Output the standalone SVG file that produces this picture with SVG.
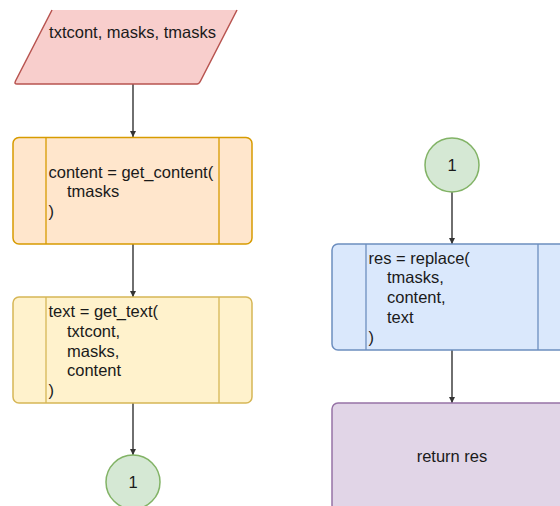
<svg xmlns="http://www.w3.org/2000/svg" width="560" height="506" viewBox="0 0 560 506">
  <style>
    text { font-family: "Liberation Sans", Arial, sans-serif; font-size: 16.5px; fill: #1a1a1a; }
    .mid { text-anchor: middle; }
    .edge { fill: none; stroke: #333333; stroke-width: 1.4; }
    .bx { stroke-width: 1.5; }
    .sep { fill: none; stroke-width: 1.3; }
  </style>
  <defs>
    <marker id="arrow" viewBox="0 0 10 10" refX="10" refY="5" markerWidth="6" markerHeight="6" markerUnits="userSpaceOnUse" orient="auto">
      <path d="M0,0 L10,5 L0,10 Z" fill="#333333"/>
    </marker>
  </defs>

  <!-- connectors -->
  <g id="connectors">
    <line class="edge" x1="133" y1="84" x2="133" y2="137" marker-end="url(#arrow)"/>
    <line class="edge" x1="133" y1="244" x2="133" y2="297" marker-end="url(#arrow)"/>
    <line class="edge" x1="133" y1="403" x2="133" y2="455" marker-end="url(#arrow)"/>
    <line class="edge" x1="452" y1="192" x2="452" y2="244" marker-end="url(#arrow)"/>
    <line class="edge" x1="452" y1="350" x2="452" y2="403" marker-end="url(#arrow)"/>
  </g>

  <!-- input -->
  <g id="input">
    <polygon points="52,10 237,10 199,84 14,84" fill="#f8cecc"/>
    <path d="M52,10 L15.5,81 Q14,84 17,84 L197,84 Q199,84 200.5,81 L237,10" fill="none" stroke="#b85450" stroke-width="1.5" stroke-linejoin="round"/>
    <text x="132.5" y="37.5" class="mid">txtcont, masks, tmasks</text>
  </g>

  <!-- get_content -->
  <g id="get-content">
    <rect class="bx" x="13" y="137.5" width="239" height="106.5" rx="6" fill="#ffe6cc" stroke="#d79b00"/>
    <line class="sep" x1="46" y1="137.5" x2="46" y2="244" stroke="#d79b00"/>
    <line class="sep" x1="219" y1="137.5" x2="219" y2="244" stroke="#d79b00"/>
    <text x="48.5" y="177.5">content = get_content(</text>
    <text x="67" y="197.3">tmasks</text>
    <text x="48.5" y="217.1">)</text>
  </g>

  <!-- get_text -->
  <g id="get-text">
    <rect class="bx" x="13" y="297" width="239" height="106" rx="6" fill="#fff2cc" stroke="#d6b656"/>
    <line class="sep" x1="46" y1="297" x2="46" y2="403" stroke="#d6b656"/>
    <line class="sep" x1="219" y1="297" x2="219" y2="403" stroke="#d6b656"/>
    <text x="48.5" y="317">text = get_text(</text>
    <text x="67" y="336.8">txtcont,</text>
    <text x="67" y="356.6">masks,</text>
    <text x="67" y="376.4">content</text>
    <text x="48.5" y="396.2">)</text>
  </g>

  <!-- off-page connector, outgoing -->
  <g id="link-out">
    <circle cx="133" cy="482" r="27" fill="#d5e8d4" stroke="#82b366" stroke-width="1.5"/>
    <text x="133" y="488" class="mid">1</text>
  </g>

  <!-- off-page connector, incoming -->
  <g id="link-in">
    <circle cx="452" cy="165" r="27" fill="#d5e8d4" stroke="#82b366" stroke-width="1.5"/>
    <text x="452" y="171" class="mid">1</text>
  </g>

  <!-- replace -->
  <g id="replace">
    <rect class="bx" x="332" y="244" width="239" height="106" rx="6" fill="#dae8fc" stroke="#6c8ebf"/>
    <line class="sep" x1="366" y1="244" x2="366" y2="350" stroke="#6c8ebf"/>
    <line class="sep" x1="538" y1="244" x2="538" y2="350" stroke="#6c8ebf"/>
    <text x="368.5" y="263.5">res = replace(</text>
    <text x="387" y="283.3">tmasks,</text>
    <text x="387" y="303.1">content,</text>
    <text x="387" y="322.9">text</text>
    <text x="368.5" y="342.7">)</text>
  </g>

  <!-- return -->
  <g id="return">
    <rect class="bx" x="332" y="403" width="239" height="108" rx="6" fill="#e1d5e7" stroke="#9673a6"/>
    <text x="452" y="462" class="mid">return res</text>
  </g>
</svg>
